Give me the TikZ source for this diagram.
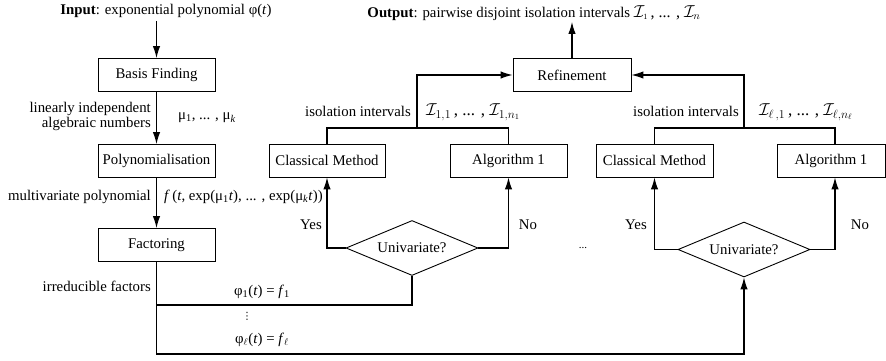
\documentclass[tikz,border=0pt]{standalone}
\usepackage{fontspec}
\setmainfont{Liberation Serif}
\newfontfamily\dvfont{DejaVu Sans}
\usetikzlibrary{shapes.geometric,arrows.meta}
\begin{document}
\begin{tikzpicture}[x=1pt,y=-1pt,
  every node/.style={font=\fontsize{14.8}{16}\selectfont, inner sep=1pt},
  procbox/.style={draw, line width=0.9pt, minimum height=33pt, inner sep=0pt},
  decbox/.style={draw, diamond, aspect=2.4, line width=0.9pt, minimum width=132pt, minimum height=55pt, inner sep=0pt},
  conn/.style={line width=1.2pt},
  arr/.style={conn, -{Latex[length=12pt,width=7.5pt]}},
  lbl/.style={inner sep=0pt},
  intlbl/.style={inner sep=0pt, font=\fontsize{17}{18}\selectfont}
]
\useasboundingbox (0,0) rectangle (886,361);
% top texts
\node[lbl] (input) at (166,11) {\textbf{Input}: exponential polynomial φ(\textit{t})};
\node[lbl] (output) at (534,13) {\textbf{Output}: pairwise disjoint isolation intervals {\fontsize{16}{17}\selectfont$\mathcal{I}_{\scriptscriptstyle 1}$\,, ... , $\mathcal{I}_{n}$}};
% boxes
\node[procbox, minimum width=117pt] (basis) at (156.5,75) {Basis Finding};
\node[procbox, minimum width=117pt] (poly) at (156.5,161) {Polynomialisation};
\node[procbox, minimum width=117pt] (fact) at (156.5,245) {Factoring};
\node[procbox, minimum width=116pt] (cm1) at (327,160.5) {Classical Method};
\node[procbox, minimum width=117pt] (alga) at (508.5,160.5) {Algorithm 1};
\node[procbox, minimum width=118pt] (ref) at (572,75) {Refinement};
\node[procbox, minimum width=117pt] (cm2) at (654.5,160.5) {Classical Method};
\node[procbox, minimum width=108pt] (algb) at (831,160.5) {Algorithm 1};
\node[decbox] (d1) at (412,248) {Univariate?};
\node[decbox] (d2) at (744,249.5) {Univariate?};
% junction coordinates
\coordinate (fj1) at (156.5,305);
\coordinate (fj2) at (156.5,354);
\coordinate (lj) at (417,128);
\coordinate (rj) at (744,128);
\coordinate (inS) at (156.5,21);
\coordinate (outN) at (572,22);
% connectors left column
\draw[arr] (inS) -- (basis.north);
\draw[arr] (basis.south) -- (poly.north);
\draw[arr] (poly.south) -- (fact.north);
\draw[conn] (fact.south) -- (fj1) -| (d1.south);
\draw[arr] (fj1) -- (fj2) -| (d2.south);
% diamonds to methods
\draw[arr] (d1.west) -| (cm1.south);
\draw[arr] (d1.east) -| (alga.south);
\draw[arr] (d2.west) -| (cm2.south);
\draw[arr] (d2.east) -| ([xshift=4pt]algb.south);
% methods to refinement
\draw[conn] (cm1.north) |- (lj) -| (alga.north);
\draw[arr] (lj) |- (ref.west);
\draw[conn] (cm2.north) |- (rj) -| ([xshift=4pt]algb.north);
\draw[arr] (rj) |- (ref.east);
\draw[arr] (ref.north) -- (outN);
% labels
\node[lbl, align=right, anchor=east] (lin) at (151,116) {linearly independent\\[-1pt]algebraic numbers};
\node[lbl, anchor=west] (mus) at (178,118) {μ\textsubscript{1}, ... , μ\textsubscript{\textit{k}}};
\node[lbl, anchor=west] (fexp) at (164,197) {\textit{f}\,(\textit{t}, exp(μ\textsubscript{1}\textit{t}), ... , exp(μ\textsubscript{\textit{k}}\textit{t}))};
\node[lbl, anchor=east] (mvp) at (151,197) {multivariate polynomial};
\node[lbl, anchor=east] (irr) at (151,286) {irreducible factors};
\node[lbl] (phi1) at (262,292) {φ\textsubscript{1}(\textit{t}) = \textit{f}\textsubscript{1}};
\node[lbl] (vd) at (247,316) {\dvfont\fontsize{10}{10}\selectfont ⋮};
\node[lbl] (phil) at (262,340) {φ\textsubscript{$\ell$}(\textit{t}) = \textit{f}\textsubscript{$\ell$}};
\node[lbl] (yes1) at (311,225) {Yes};
\node[lbl] (no1) at (528,225) {No};
\node[lbl] (dots) at (583,248) {\fontsize{11}{11}\selectfont ...};
\node[lbl] (yes2) at (636,225) {Yes};
\node[lbl] (no2) at (860,225) {No};
\node[lbl, anchor=east] (iso1) at (411,111) {isolation intervals};
\node[intlbl, anchor=west] (int1) at (426,112) {$\mathcal{I}_{1,1}$\,, ... , $\mathcal{I}_{1,n_1}$};
\node[lbl, anchor=east] (iso2) at (739,111) {isolation intervals};
\node[intlbl, anchor=west] (int2) at (759,112) {$\mathcal{I}_{\ell\,,1}$\,, ... , $\mathcal{I}_{\ell,n_\ell}$};
\end{tikzpicture}
\end{document}
